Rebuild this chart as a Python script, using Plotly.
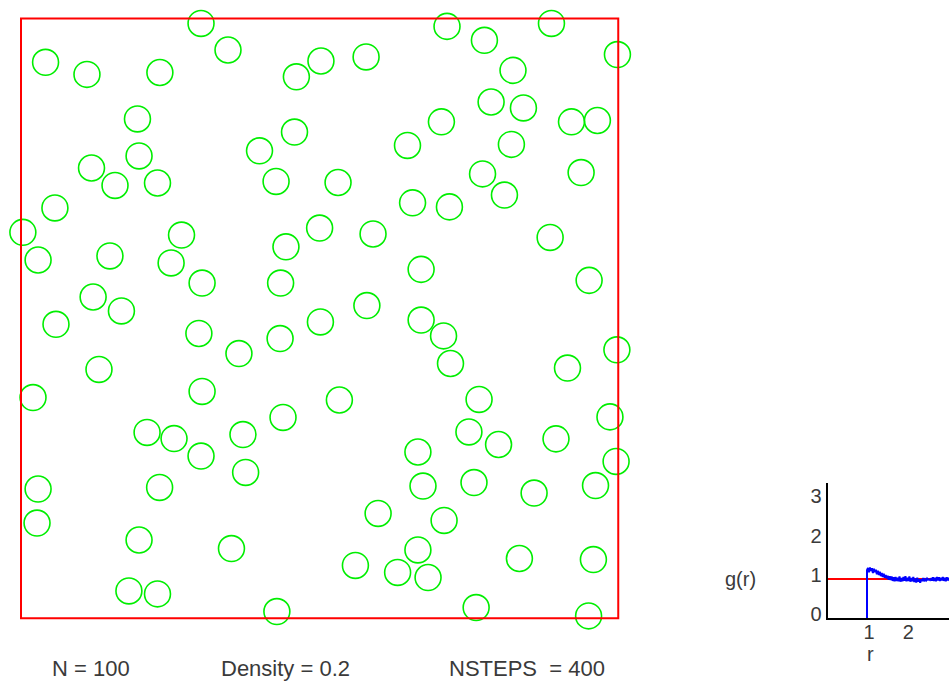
import plotly.graph_objects as go

# ---- data ----
N = 100
density = 0.2
nsteps = 400
L = (N / density) ** 0.5  # box side, sigma = 1
sigma = 1.0

x_pos = [6.74, 7.75, 0.92, 2.47, 5.20, 10.31, 11.23, 12.92, 15.95, 17.35,
         19.86, 22.33, 18.42, 17.60, 18.81, 15.74, 20.61, 21.58, 4.36, 10.24,
         8.93, 14.47, 18.36, 4.42, 2.64, 3.52, 5.11, 9.55, 11.87, 17.28,
         20.97, 1.27, 14.66, 16.04, 18.10, 0.07, 0.64, 3.33, 6.01, 5.62,
         9.92, 11.18, 13.18, 19.81, 6.78, 9.72, 14.98, 21.27, 2.70, 3.76,
         1.31, 12.95, 11.21, 14.98, 15.82, 6.66, 9.70, 8.16, 16.08, 22.31,
         20.46, 2.92, 0.45, 6.78, 11.92, 17.15, 9.81, 22.05, 4.72, 5.73,
         8.31, 16.77, 17.88, 20.03, 6.74, 14.86, 22.28, 8.41, 0.64, 5.19,
         15.05, 16.96, 21.51, 19.21, 13.37, 15.84, 0.60, 4.42, 7.88, 14.86,
         12.52, 14.10, 15.24, 18.66, 21.43, 4.04, 5.11, 9.58, 17.04, 21.25]
y_pos = [22.18, 21.19, 20.73, 20.28, 20.35, 20.19, 20.78, 20.93, 22.07, 21.55,
         22.18, 21.02, 20.43, 19.25, 19.03, 18.51, 18.51, 18.56, 18.62, 18.13,
         17.43, 17.63, 17.67, 17.24, 16.79, 16.14, 16.23, 16.29, 16.25, 16.57,
         16.62, 15.30, 15.49, 15.34, 15.78, 14.39, 13.36, 13.51, 14.29, 13.25,
         13.85, 14.55, 14.33, 14.20, 12.50, 12.50, 13.01, 12.60, 11.98, 11.46,
         10.96, 11.66, 11.05, 11.12, 10.53, 10.62, 10.43, 9.87, 9.50, 10.01,
         9.33, 9.28, 8.23, 8.46, 8.14, 8.16, 7.49, 7.51, 6.93, 6.70,
         6.85, 6.95, 6.48, 6.69, 6.05, 6.20, 5.85, 5.44, 4.82, 4.88,
         4.93, 5.06, 4.95, 4.67, 3.91, 3.65, 3.55, 2.92, 2.60, 2.55,
         1.97, 1.71, 1.52, 2.23, 2.19, 1.02, 0.91, 0.25, 0.40, 0.09]

r_vals = [1.0] + [round(1.0 + 0.025 * i, 3) for i in range(85)]
g_vals = [0.0,
          1.22, 1.28, 1.17, 1.29, 1.20, 1.27, 1.15, 1.26, 1.17, 1.23,
          1.12, 1.21, 1.10, 1.18, 1.07, 1.15, 1.05, 1.13, 1.03, 1.10,
          1.01, 1.08, 0.98, 1.07, 0.97, 1.06, 0.95, 1.04, 0.94, 1.05,
          0.95, 1.03, 0.94, 1.06, 0.93, 1.02, 0.94, 1.05, 0.95, 1.07,
          0.94, 1.03, 0.95, 1.06, 0.93, 1.02, 0.94, 1.05, 0.92, 1.01,
          0.91, 1.03, 0.93, 1.00, 0.90, 0.99, 0.95, 1.02, 0.94, 0.99,
          0.96, 1.01, 0.98, 0.99, 0.97, 1.00, 0.96, 1.04, 0.95, 1.03,
          0.94, 1.05, 0.96, 1.04, 0.95, 1.03, 0.96, 1.05, 0.95, 1.03,
          0.94, 1.04, 0.96, 1.03, 0.95]
g_ideal_r = [0.0, 3.2]
g_ideal = [1.0, 1.0]

gr_xticks = [1, 2, 3]
gr_yticks = [0, 1, 2, 3]

# ---- layout geometry (pixels) ----
W, H = 949, 681
sx = 26.71  # px per unit (main box, x)
sy = 26.82  # px per unit (main box, y)
box_left, box_bottom = 21.0, 618.3
inset_left, inset_bottom, inset_top = 827.6, 618.3, 483.0
su = 39.4  # px per unit inset

TXT = "#3a3a3a"
FONT = "Liberation Sans, Arial, sans-serif"

fig = go.Figure()

fig.add_trace(go.Scatter(
    x=x_pos, y=y_pos, mode="markers",
    marker=dict(symbol="circle-open", size=sigma * sx - 0.8,
                color="#00ee00", line=dict(width=1.6, color="#00ee00")),
    xaxis="x", yaxis="y", hoverinfo="skip", showlegend=False))

fig.add_trace(go.Scatter(
    x=g_ideal_r, y=g_ideal, mode="lines",
    line=dict(color="#ff0000", width=2),
    xaxis="x2", yaxis="y2", showlegend=False, hoverinfo="skip"))

fig.add_trace(go.Scatter(
    x=r_vals, y=g_vals, mode="lines",
    line=dict(color="#0000ff", width=2),
    xaxis="x2", yaxis="y2", showlegend=False, hoverinfo="skip"))

fig.add_shape(type="rect", xref="x", yref="y", x0=0, y0=0, x1=L, y1=L,
              line=dict(color="#ff0000", width=2), layer="above")

fig.update_layout(
    template="none", showlegend=False,
    width=W, height=H, margin=dict(l=0, r=0, t=0, b=0, pad=0, autoexpand=False),
    autosize=False,
    paper_bgcolor="white", plot_bgcolor="rgba(0,0,0,0)",
    font=dict(family=FONT, color=TXT, size=20),
    xaxis=dict(domain=[0, 1], range=[-box_left / sx, (W - box_left) / sx],
               visible=False, fixedrange=True, automargin=False),
    yaxis=dict(domain=[0, 1], range=[-(H - box_bottom) / sy, box_bottom / sy],
               visible=False, fixedrange=True, automargin=False),
    xaxis2=dict(domain=[inset_left / W, 1], range=[0, (W - inset_left) / su],
                anchor="y2", showline=True, linecolor="black", linewidth=2,
                showgrid=False, zeroline=False, ticks="", tickvals=gr_xticks,
                tickfont=dict(size=20, color=TXT), ticklabelshift=2,
                ticklabelstandoff=-5, automargin=False, fixedrange=True),
    yaxis2=dict(domain=[(H - inset_bottom) / H, (H - inset_top) / H],
                range=[0, (inset_bottom - inset_top) / su],
                anchor="x2", showline=True, linecolor="black", linewidth=2,
                showgrid=False, zeroline=False, ticks="", tickvals=gr_yticks,
                tickfont=dict(size=20, color=TXT), ticklabelshift=-4,
                automargin=False, fixedrange=True),
)

def ann(text, px, py, xanchor="left"):
    fig.add_annotation(text=text, x=px / W, y=1 - py / H, xref="paper", yref="paper",
                       xanchor=xanchor, yanchor="middle", showarrow=False,
                       font=dict(size=22, color=TXT, family=FONT))

ann(f"N = {N}", 50, 668)
ann(f"Density = {density}", 219, 668)
ann(f"NSTEPS &nbsp;= {nsteps}", 447, 668)

fig.add_annotation(text="g(r)", x=723 / W, y=1 - 579 / H, xref="paper", yref="paper",
                   xanchor="left", yanchor="middle", showarrow=False,
                   font=dict(size=20, color=TXT, family=FONT))
fig.add_annotation(text="r", x=1.1, xref="x2", y=1 - 654 / H, yref="paper",
                   xanchor="center", yanchor="middle", showarrow=False,
                   font=dict(size=20, color=TXT, family=FONT))

# remove the default page margin synchronously, so the figure fills the window
post = ("});document.documentElement.style.margin='0px';"
        "document.body.style.margin='0px';document.body.style.overflow='hidden';"
        "(function(){")

fig.write_html("out.html", config={"displayModeBar": False}, post_script=post)
